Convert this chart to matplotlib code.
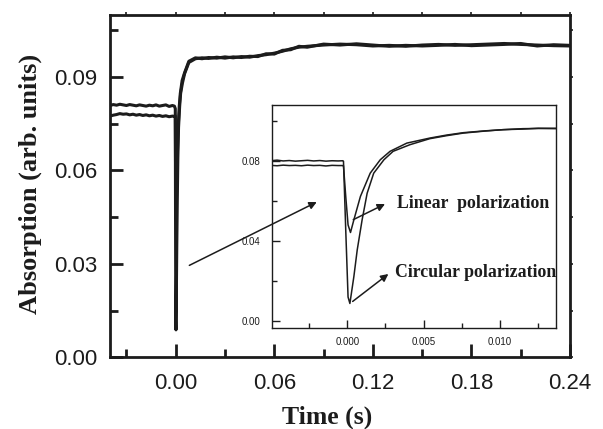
import numpy as np
import matplotlib
matplotlib.use("Agg")
import matplotlib.pyplot as plt
from matplotlib.ticker import MultipleLocator

# --- main trace : before the laser pulse (s, arb. units) ---
t_pre = [-0.040, -0.038, -0.036, -0.034, -0.032, -0.030, -0.028, -0.026, -0.024, -0.022,
         -0.020, -0.018, -0.016, -0.014, -0.012, -0.010, -0.008, -0.006, -0.004, -0.002, -0.0008]
cir_pre = [0.0808, 0.0811, 0.0809, 0.0812, 0.0810, 0.0808, 0.0811, 0.0809, 0.0807, 0.0810,
           0.0808, 0.0806, 0.0809, 0.0807, 0.0810, 0.0806, 0.0808, 0.0810, 0.0805, 0.0808, 0.0806]
lin_pre = [0.0774, 0.0777, 0.0779, 0.0782, 0.0780, 0.0781, 0.0778, 0.0780, 0.0777, 0.0779,
           0.0776, 0.0778, 0.0775, 0.0777, 0.0774, 0.0776, 0.0773, 0.0775, 0.0772, 0.0774, 0.0773]

# --- dip around t = 0 (used in the inset and in the main plot) ---
t_cir_dip = [-0.00025, -0.0001, 0.00005, 0.00017, 0.00043, 0.00065, 0.00097, 0.0013,
             0.00173, 0.0024, 0.0030, 0.0041, 0.0054]
cir_dip = [0.0798, 0.0450, 0.0120, 0.0088, 0.0222, 0.0355, 0.0505, 0.0638,
           0.0738, 0.0805, 0.0847, 0.0880, 0.0910]
t_lin_dip = [-0.00025, -0.0001, 0.00005, 0.00021, 0.00043, 0.00086, 0.0015, 0.00216,
             0.0028, 0.0039, 0.0054]
lin_dip = [0.0775, 0.0620, 0.0480, 0.0442, 0.0505, 0.0622, 0.0738, 0.0805,
           0.0847, 0.0888, 0.0913]

# --- inset : pre-pulse baseline and tail ---
t_in_pre = [-0.0050, -0.0046, -0.0042, -0.0038, -0.0034, -0.0030, -0.0026,
            -0.0022, -0.0018, -0.0014, -0.0010, -0.0006, -0.0003]
cir_in_pre = [0.0800, 0.0803, 0.0799, 0.0801, 0.0798, 0.0800, 0.0802,
              0.0799, 0.0801, 0.0798, 0.0800, 0.0799, 0.0800]
lin_in_pre = [0.0777, 0.0775, 0.0778, 0.0776, 0.0777, 0.0775, 0.0778,
              0.0776, 0.0777, 0.0774, 0.0777, 0.0776, 0.0776]
t_in_tail = [0.0065, 0.0076, 0.0090, 0.0102, 0.0115, 0.0125, 0.0137]
cir_in_tail = [0.0925, 0.0938, 0.0948, 0.0955, 0.0958, 0.0962, 0.0960]
lin_in_tail = [0.0928, 0.0940, 0.0949, 0.0955, 0.0960, 0.0961, 0.0962]

# --- main trace : long times ---
t_post = [0.008, 0.012, 0.016, 0.020, 0.025, 0.030, 0.035, 0.040, 0.045, 0.050,
          0.055, 0.060, 0.065, 0.070, 0.075, 0.080, 0.090, 0.100, 0.110, 0.120,
          0.130, 0.140, 0.150, 0.160, 0.170, 0.180, 0.190, 0.200, 0.210, 0.220,
          0.230, 0.240]
lin_post = [0.0950, 0.0961, 0.0958, 0.0962, 0.0960, 0.0964, 0.0961, 0.0965, 0.0963, 0.0968,
            0.0971, 0.0976, 0.0982, 0.0990, 0.0995, 0.0998, 0.1002, 0.1005, 0.1003, 0.0999,
            0.1001, 0.0998, 0.1002, 0.1004, 0.1001, 0.1003, 0.1005, 0.1007, 0.1004, 0.1002,
            0.1000, 0.0999]
cir_post = [0.0946, 0.0958, 0.0961, 0.0959, 0.0963, 0.0960, 0.0964, 0.0962, 0.0966, 0.0965,
            0.0974, 0.0973, 0.0985, 0.0987, 0.0998, 0.0995, 0.1005, 0.1002, 0.1006, 0.1002,
            0.0998, 0.1001, 0.0999, 0.1001, 0.1004, 0.1000, 0.1002, 0.1004, 0.1007, 0.0999,
            0.1003, 0.1001]

ink = "#1c1c1c"
serif = "Liberation Serif"
sans = "Liberation Sans"

fig = plt.figure(figsize=(6.03, 4.29), dpi=100)
ax = fig.add_axes([0.1824, 0.1671, 0.7629, 0.7991])

t_lin_main = t_pre + t_lin_dip + t_post
y_lin_main = lin_pre + lin_dip + lin_post
t_cir_main = t_pre + t_cir_dip + t_post
y_cir_main = cir_pre + cir_dip + cir_post
ax.plot(t_lin_main, y_lin_main, color=ink, lw=2.2)
ax.plot(t_cir_main, y_cir_main, color=ink, lw=2.2)

ax.set_xlim(-0.04, 0.24)
ax.set_ylim(0.0, 0.11)
ax.xaxis.set_major_locator(MultipleLocator(0.06))
ax.xaxis.set_minor_locator(MultipleLocator(0.03))
ax.yaxis.set_major_locator(MultipleLocator(0.03))
ax.yaxis.set_minor_locator(MultipleLocator(0.015))
ax.xaxis.set_major_formatter(plt.FormatStrFormatter("%.2f"))
ax.yaxis.set_major_formatter(plt.FormatStrFormatter("%.2f"))
ax.tick_params(which="both", direction="in", width=2.0, color=ink)
ax.tick_params(which="major", length=9.5)
ax.tick_params(which="minor", length=5.5)
ax.tick_params(axis="x", which="major", pad=11)
ax.tick_params(axis="y", which="major", pad=9)
for lab in ax.get_xticklabels() + ax.get_yticklabels():
    lab.set_fontfamily(sans)
    lab.set_fontsize(16)
    lab.set_color(ink)
for sp in ax.spines.values():
    sp.set_linewidth(2.0)
    sp.set_color(ink)

# small outward ticks on top / right
top = ax.secondary_xaxis("top")
top.xaxis.set_major_locator(MultipleLocator(0.03))
top.tick_params(direction="out", length=2.5, width=1.2, labeltop=False, color=ink)
right = ax.secondary_yaxis("right")
right.yaxis.set_major_locator(MultipleLocator(0.015))
right.tick_params(direction="out", length=2.5, width=1.2, labelright=False, color=ink)

ax.set_xlabel("Time (s)", fontfamily=serif, fontweight="bold", fontsize=18.5, color=ink)
ax.xaxis.set_label_coords(0.471, -0.142)
ax.set_ylabel("Absorption (arb. units)", fontfamily=serif, fontweight="bold",
              fontsize=19, color=ink)
ax.yaxis.set_label_coords(-0.148, 0.505)

# --- inset ---
ax_in = fig.add_axes([0.4506, 0.2347, 0.4715, 0.5205])
ax_in.plot(t_in_pre + t_lin_dip + t_in_tail, lin_in_pre + lin_dip + lin_in_tail,
           color=ink, lw=1.1)
ax_in.plot(t_in_pre + t_cir_dip + t_in_tail, cir_in_pre + cir_dip + cir_in_tail,
           color=ink, lw=1.1)
ax_in.set_xlim(-0.00495, 0.01367)
ax_in.set_ylim(-0.0036, 0.1078)
ax_in.xaxis.set_major_locator(MultipleLocator(0.005))
ax_in.xaxis.set_minor_locator(MultipleLocator(0.0025))
ax_in.yaxis.set_major_locator(MultipleLocator(0.04))
ax_in.yaxis.set_minor_locator(MultipleLocator(0.02))
ax_in.xaxis.set_major_formatter(plt.FormatStrFormatter("%.3f"))
ax_in.yaxis.set_major_formatter(plt.FormatStrFormatter("%.2f"))
ax_in.tick_params(which="both", direction="in", width=1.0, color=ink,
                  labelsize=7, labelcolor=ink)
ax_in.tick_params(which="major", length=6)
ax_in.tick_params(which="minor", length=3.5)
ax_in.tick_params(axis="x", which="major", pad=6)
ax_in.tick_params(axis="y", which="major", pad=8)
for lab in ax_in.get_xticklabels() + ax_in.get_yticklabels():
    lab.set_fontfamily(sans)
for sp in ax_in.spines.values():
    sp.set_linewidth(1.0)
    sp.set_color(ink)

arrow = dict(arrowstyle="-|>", color=ink, lw=1.1, mutation_scale=11,
             shrinkA=0, shrinkB=0)
ax_in.annotate("", xy=(0.00247, 0.0584), xytext=(0.00039, 0.0506), arrowprops=arrow)
ax_in.annotate("", xy=(0.00269, 0.0235), xytext=(0.00035, 0.0098), arrowprops=arrow)
ax_in.text(0.00324, 0.0586, "Linear  polarization", fontfamily=serif,
           fontweight="bold", fontsize=12.8, color=ink, va="center", ha="left")
ax_in.text(0.00313, 0.0243, "Circular polarization", fontfamily=serif,
           fontweight="bold", fontsize=12.8, color=ink, va="center", ha="left")

# long arrow from the main spike into the inset
ax_in.annotate("", xy=(-0.0020, 0.0594), xycoords="data",
               xytext=(0.0083, 0.0295), textcoords=ax.transData,
               arrowprops=arrow, annotation_clip=False)

fig.savefig("out.png", dpi=100)
